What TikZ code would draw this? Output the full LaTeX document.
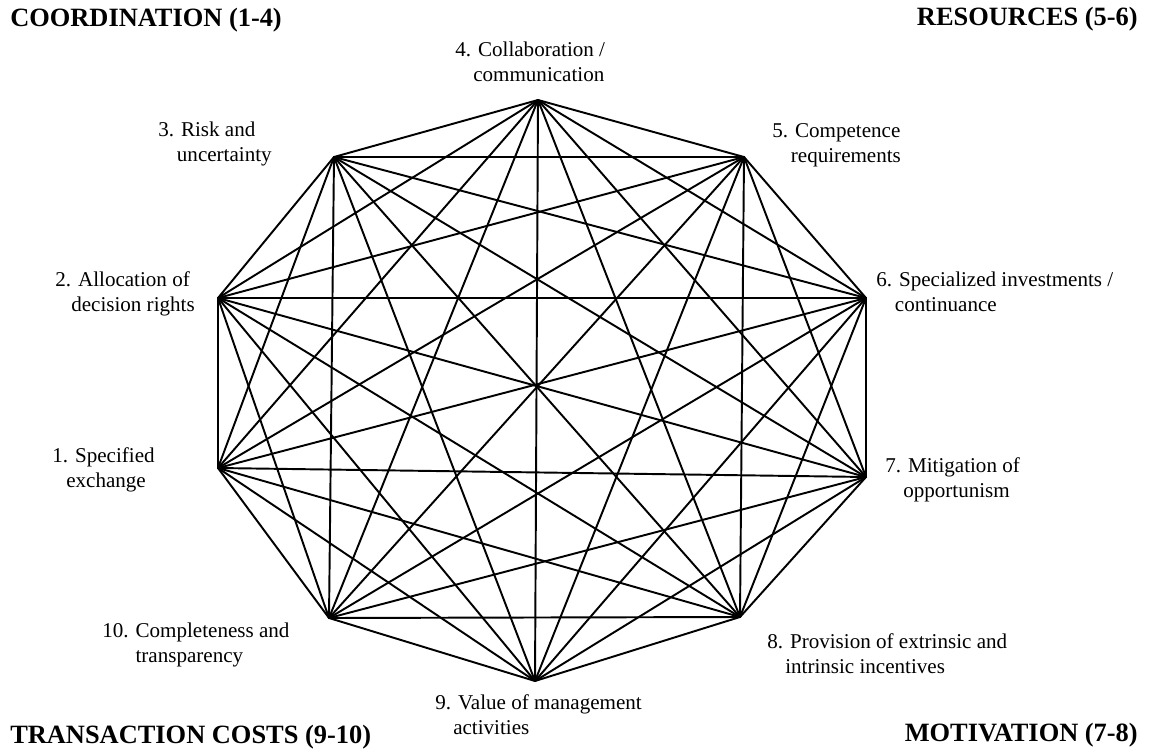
\documentclass[tikz,border=0pt]{standalone}
\usepackage{fontspec}
\setmainfont{Liberation Serif}
\begin{document}
\begin{tikzpicture}[x=0.75pt,y=-0.75pt,
  lbl/.style={anchor=west, align=left, inner sep=0pt, font=\fontsize{15.8}{19}\selectfont},
  hd/.style={inner sep=0pt, font=\fontsize{19.8}{23}\selectfont\bfseries},
  edge/.style={line width=1.45pt, line cap=round}]
\useasboundingbox (0,0) rectangle (1152,756);
% vertices
\coordinate (v1) at (218,468);
\coordinate (v2) at (218,298);
\coordinate (v3) at (334,157);
\coordinate (v4) at (538,100);
\coordinate (v5) at (744,157);
\coordinate (v6) at (866,298);
\coordinate (v7) at (866,477);
\coordinate (v8) at (740,617);
\coordinate (v9) at (535,681);
\coordinate (v10) at (329,618);
% complete graph
\foreach \i [evaluate=\i as \s using int(\i+1)] in {1,...,9}
  \foreach \j in {\s,...,10}
    \draw[edge] (v\i) -- (v\j);
% labels
\node[lbl] (l4) at (455,62) {4. Collaboration /\\\hspace*{13.5pt}communication};
\node[lbl] (l3) at (158,144) {3. Risk and\\\hspace*{14pt}uncertainty};
\node[lbl] (l5) at (772,145) {5. Competence\\\hspace*{14pt}requirements};
\node[lbl] (l2) at (55,294) {2. Allocation of\\\hspace*{12pt}decision rights};
\node[lbl] (l6) at (876,292) {6. Specialized investments /\\\hspace*{14pt}continuance};
\node[lbl] (l1) at (52,470) {1. Specified\\\hspace*{10.5pt}exchange};
\node[lbl] (l7) at (885,480) {7. Mitigation of\\\hspace*{13.5pt}opportunism};
\node[lbl] (l10) at (102,645) {10. Completeness and\\\hspace*{25pt}transparency};
\node[lbl] (l8) at (767,654) {8. Provision of extrinsic and\\\hspace*{13.5pt}intrinsic incentives};
\node[lbl] (l9) at (435,715) {9. Value of management\\\hspace*{13.5pt}activities};
% headings
\node[hd, anchor=west] (hcoord) at (10,20) {COORDINATION (1-4)};
\node[hd, anchor=east] (hres) at (1138,19) {RESOURCES (5-6)};
\node[hd, anchor=west] (htc) at (10,737) {TRANSACTION COSTS (9-10)};
\node[hd, anchor=east] (hmot) at (1138,735) {MOTIVATION (7-8)};
\end{tikzpicture}
\end{document}
